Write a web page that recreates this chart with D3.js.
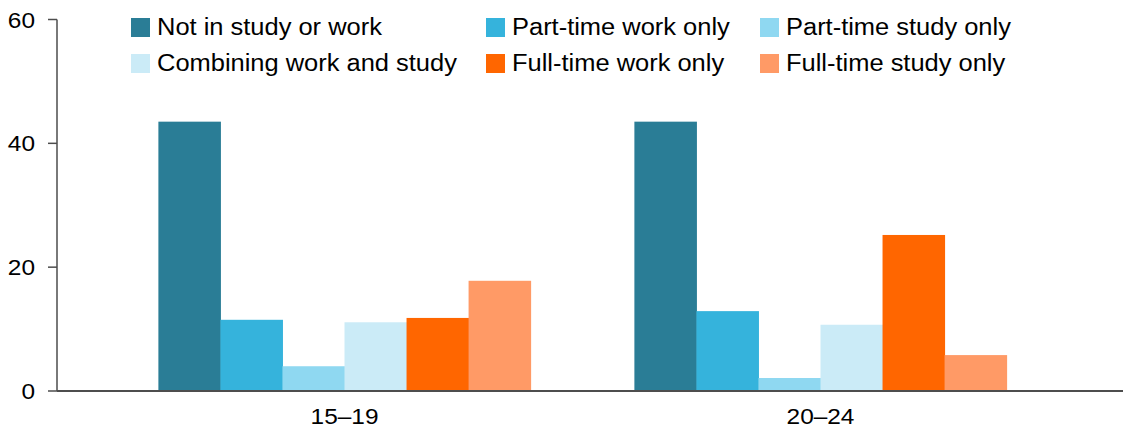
<!DOCTYPE html>
<html>
<head>
<meta charset="utf-8">
<script src="https://cdn.jsdelivr.net/npm/d3@7"></script>
<style>
  body { margin: 0; background: #fff; }
  svg text { font-family: "Liberation Sans", Arial, sans-serif; fill: #000; }
</style>
</head>
<body>
<svg width="1123" height="431"></svg>
<script>
// chart data
var groups = ["15\u201319", "20\u201324"];
var seriesNames = ["Not in study or work", "Part-time work only", "Part-time study only",
                   "Combining work and study", "Full-time work only", "Full-time study only"];
var colors = ["#2a7d96", "#35b3dc", "#8fd8f1", "#cbebf7", "#ff6600", "#ff9a66"];
var values15to19 = [43.5, 11.5, 4.0, 11.1, 11.8, 17.8];
var values20to24 = [43.5, 12.9, 2.1, 10.7, 25.2, 5.8];
var yTicks = [0, 20, 40, 60];

var allVals = [values15to19, values20to24];
var svg = d3.select("svg");
var stretch = 1.11; // text in the picture is a bit wide

var y = d3.scaleLinear().domain([0, 60]).range([391, 19.5]);
var x0 = d3.scaleBand().domain(groups).range([57, 1108]).paddingInner(0.218).paddingOuter(0.213);
var x1 = d3.scaleBand().domain(d3.range(seriesNames.length)).range([0, x0.bandwidth()]);

// bars
var g = svg.selectAll(".grp").data(groups).enter().append("g")
    .attr("transform", function(d) { return "translate(" + x0(d) + ",0)"; });
g.selectAll("rect").data(function(d, i) { return allVals[i]; }).enter().append("rect")
    .attr("x", function(d, i) { return x1(i); })
    .attr("width", x1.bandwidth() + 0.5)
    .attr("y", function(d) { return y(d); })
    .attr("height", function(d) { return y(0) - y(d); })
    .attr("fill", function(d, i) { return colors[i]; });

// y axis
var yAxis = svg.append("g").attr("transform", "translate(57,0)");
yAxis.append("line").attr("x1", 0).attr("x2", 0).attr("y1", y(60)).attr("y2", y(0))
    .attr("stroke", "#4d4d4d").attr("stroke-width", 1.5);
yTicks.forEach(function(t) {
  yAxis.append("line").attr("x1", -9).attr("x2", 0).attr("y1", y(t)).attr("y2", y(t))
      .attr("stroke", "#4d4d4d").attr("stroke-width", 1.5);
  yAxis.append("text").attr("text-anchor", "end")
      .attr("transform", "translate(-22," + (y(t) + 8) + ") scale(" + stretch + ",1)")
      .style("font-size", "22px").text(t);
});

// x axis
svg.append("line").attr("x1", 57).attr("x2", 1123).attr("y1", y(0)).attr("y2", y(0))
    .attr("stroke", "#4d4d4d").attr("stroke-width", 2);
groups.forEach(function(gr) {
  svg.append("text").attr("text-anchor", "middle")
      .attr("transform", "translate(" + (x0(gr) + x0.bandwidth() / 2) + ",424) scale(" + stretch + ",1)")
      .style("font-size", "22px").text(gr);
});

// legend, 3 columns x 2 rows
var legX = [131, 486, 760], legY = [18, 54];
seriesNames.forEach(function(name, i) {
  var lx = legX[i % 3], ly = legY[Math.floor(i / 3)];
  svg.append("rect").attr("x", lx).attr("y", ly).attr("width", 19).attr("height", 19)
      .attr("fill", colors[i]);
  svg.append("text")
      .attr("transform", "translate(" + (lx + 26) + "," + (ly + 17) + ") scale(1.107,1)")
      .style("font-size", "23px").text(name);
});
</script>
</body>
</html>
